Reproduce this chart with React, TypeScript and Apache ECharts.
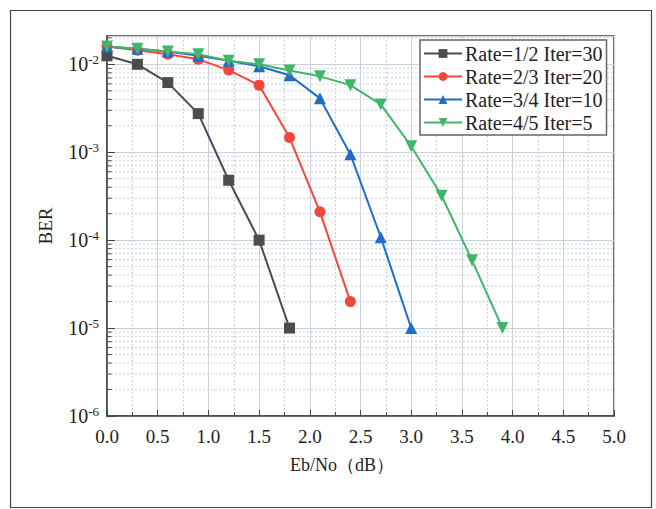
import React, { useEffect, useRef } from 'react';
import * as echarts from 'echarts';

const seriesNames = ['Rate=1/2 Iter=30', 'Rate=2/3 Iter=20', 'Rate=3/4 Iter=10', 'Rate=4/5 Iter=5'];
const colors = ['#4a4c4e', '#f4473c', '#1f6ec6', '#3fb66a'];

const snr12 = [0.0, 0.3, 0.6, 0.9, 1.2, 1.5, 1.8];
const ber12 = [1.25e-2, 1.0e-2, 6.2e-3, 2.75e-3, 4.8e-4, 1.0e-4, 1.0e-5];

const snr23 = [0.0, 0.3, 0.6, 0.9, 1.2, 1.5, 1.8, 2.1, 2.4];
const ber23 = [1.6e-2, 1.45e-2, 1.3e-2, 1.14e-2, 8.6e-3, 5.8e-3, 1.47e-3, 2.1e-4, 2.0e-5];

const snr34 = [0.0, 0.3, 0.6, 0.9, 1.2, 1.5, 1.8, 2.1, 2.4, 2.7, 3.0];
const ber34 = [1.6e-2, 1.5e-2, 1.4e-2, 1.25e-2, 1.1e-2, 9.5e-3, 7.5e-3, 4.1e-3, 9.5e-4, 1.08e-4, 1.0e-5];

const snr45 = [0.0, 0.3, 0.6, 0.9, 1.2, 1.5, 1.8, 2.1, 2.4, 2.7, 3.0, 3.3, 3.6, 3.9];
const ber45 = [1.6e-2, 1.5e-2, 1.4e-2, 1.3e-2, 1.1e-2, 1.0e-2, 8.5e-3, 7.3e-3, 5.8e-3, 3.5e-3, 1.17e-3, 3.2e-4, 5.9e-5, 1.0e-5];

const decades = [1e-6, 1e-5, 1e-4, 1e-3, 1e-2];
const mantissas = [2, 3, 4, 5, 6, 7, 8, 9];
const yMin = 1e-6;
const yMax = 0.021;
const xMin = 0;
const xMax = 5;
const minorTickLen = 0.045;

const FONT = '"Liberation Serif", "Times New Roman", serif';

export default function App() {
  const ref = useRef<HTMLDivElement>(null);
  useEffect(() => {
    if (!ref.current) return;
    const chart = echarts.init(ref.current, undefined, { renderer: 'svg' });

    const minorVals: number[] = [];
    decades.forEach((d) => mantissas.forEach((m) => {
      const v = d * m;
      if (v < yMax) minorVals.push(v);
    }));

    const allX = [snr12, snr23, snr34, snr45];
    const allY = [ber12, ber23, ber34, ber45];
    const symbols = ['rect', 'circle', 'triangle', 'triangle'];
    const rotates = [0, 0, 0, 180];
    const sizes = [11, 11, 12, 12];

    const mainSeries = seriesNames.map((name, i) => ({
      name,
      type: 'line',
      z: 5,
      data: allX[i].map((x, j) => [x, allY[i][j]]),
      symbol: symbols[i],
      symbolRotate: rotates[i],
      symbolSize: sizes[i],
      lineStyle: { color: colors[i], width: 2 },
      itemStyle: { color: colors[i] },
      color: colors[i],
    }));

    const gridLines = minorVals.map((v, k) => ({
      name: 'g' + k,
      type: 'line',
      z: 1,
      silent: true,
      symbol: 'none',
      data: [[xMin, v], [xMax, v]],
      lineStyle: { color: '#c9d1dc', type: [2, 2], width: 1 },
    }));

    const tickLines = minorVals.map((v, k) => ({
      name: 't' + k,
      type: 'line',
      z: 4,
      silent: true,
      symbol: 'none',
      data: [[xMin, v], [xMin + minorTickLen, v]],
      lineStyle: { color: '#444', width: 1 },
    }));

    const option: any = {
      animation: false,
      backgroundColor: '#fff',
      grid: {
        left: 107, top: 36, width: 507, height: 380,
        show: true, borderColor: '#444', borderWidth: 1.5, backgroundColor: 'transparent',
      },
      legend: {
        data: seriesNames,
        orient: 'vertical',
        left: 420,
        top: 40,
        itemWidth: 38,
        itemHeight: 11,
        itemGap: 2,
        padding: [3, 4, 2, 3],
        backgroundColor: '#fff',
        borderColor: '#666',
        borderWidth: 1.5,
        borderRadius: 0,
        z: 10,
        textStyle: { fontFamily: FONT, fontSize: 20, color: '#222', lineHeight: 21, padding: [0, 0, 0, -2] },
      },
      xAxis: {
        type: 'value',
        min: xMin,
        max: xMax,
        interval: 0.5,
        axisLine: { show: true, onZero: false, lineStyle: { color: '#444', width: 1.5 } },
        axisTick: { show: true, inside: true, length: 6, lineStyle: { color: '#444' } },
        minorTick: { show: true, splitNumber: 2, length: 4, lineStyle: { color: '#444' } },
        splitLine: { show: true, lineStyle: { color: '#c9d1dc', width: 1 } },
        minorSplitLine: { show: true, lineStyle: { color: '#c9d1dc', type: [2, 2], width: 1 } },
        axisLabel: {
          fontFamily: FONT, fontSize: 19, color: '#222', margin: 11,
          formatter: (v: number) => v.toFixed(1),
        },
      },
      yAxis: {
        type: 'log',
        logBase: 10,
        min: yMin,
        max: yMax,
        axisLine: { show: true, onZero: false, lineStyle: { color: '#444', width: 1.5 } },
        axisTick: { show: true, inside: true, length: 8, lineStyle: { color: '#444' } },
        splitLine: { show: true, lineStyle: { color: '#c9d1dc', width: 1 } },
        name: 'BER',
        nameLocation: 'middle',
        nameGap: 52,
        nameTextStyle: { fontFamily: FONT, fontSize: 19, color: '#222' },
        axisLabel: {
          margin: 8,
          showMaxLabel: false,
          formatter: (v: number) => {
            const e = Math.log10(v);
            if (Math.abs(e - Math.round(e)) > 1e-6) return '';
            return '{a|10}{b|' + Math.round(e) + '}';
          },
          rich: {
            a: { fontFamily: FONT, fontSize: 20, color: '#222', lineHeight: 22 },
            b: { fontFamily: FONT, fontSize: 13, color: '#222', verticalAlign: 'top', lineHeight: 14, padding: [0, 0, 10, 0] },
          },
        },
      },
      graphic: [
        {
          type: 'rect',
          silent: true,
          shape: { x: 10.5, y: 10.5, width: 641, height: 497 },
          style: { fill: 'none', stroke: '#444', lineWidth: 1.2 },
        },
        {
          type: 'text',
          left: 290,
          top: 456,
          style: { text: 'Eb/No（dB）', font: '18px ' + FONT, fill: '#222' },
        },
      ],
      series: [...gridLines, ...tickLines, ...mainSeries],
    };
    chart.setOption(option);
    return () => chart.dispose();
  }, []);
  return <div ref={ref} style={{ position: 'fixed', left: 0, top: 0, width: 656, height: 509, background: '#fff' }} />;
}
